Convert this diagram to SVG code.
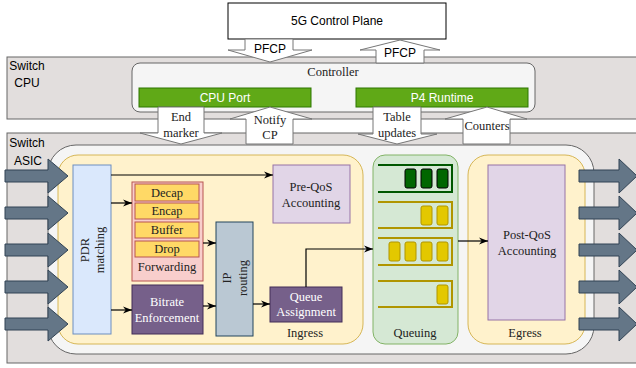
<svg xmlns="http://www.w3.org/2000/svg" width="636" height="368" viewBox="0 0 636 368">
<defs>
<marker id="ah" viewBox="0 0 10 10" refX="10" refY="5" markerWidth="9" markerHeight="9" markerUnits="userSpaceOnUse" orient="auto">
<path d="M0,1 L10,5 L0,9 L3,5 z" fill="#000"/>
</marker>
<style>
.band{fill:#e2dedd;stroke:#666;stroke-width:1}
.sans{font-family:"Liberation Sans",Arial,sans-serif;font-size:12px;fill:#000}
.serif{font-family:"Liberation Serif","Times New Roman",serif;font-size:12.5px;fill:#222}
.blk{fill:#fff;stroke:#777;stroke-width:1}
.green{fill:#60a917;stroke:#2d7600}
.wt{fill:#fff}
.purple{fill:#76608a;stroke:#432d57}
.lilac{fill:#e1d5e7;stroke:#9673a6}
.yel{fill:#fff2cc;stroke:#d6b656}
.item{fill:#ffd966;stroke:#b85450}
.big{fill:#647687;stroke:#314354}
.conn{stroke:#000;stroke-width:1.2;fill:none;marker-end:url(#ah)}
.qg{fill:none;stroke:#b09500;stroke-width:2}
.qgi{fill:#e3c800;stroke:#b09500}
.qd{fill:none;stroke:#005700;stroke-width:2}
.qdi{fill:#006600;stroke:#000}
</style>
</defs>
<rect width="636" height="368" fill="#fff"/>

<g id="switch-cpu">
<rect class="band" x="7" y="57" width="640" height="62"/>
<text class="sans" x="27" y="70" text-anchor="middle">Switch</text>
<text class="sans" x="27" y="87" text-anchor="middle">CPU</text>
</g>
<g id="switch-asic">
<rect class="band" x="7" y="133" width="640" height="230"/>
<text class="sans" x="27" y="147" text-anchor="middle">Switch</text>
<text class="sans" x="28" y="165" text-anchor="middle">ASIC</text>
<rect x="48" y="145" width="546" height="209" rx="28" fill="#f5f5f5" stroke="#666"/>
</g>

<g id="control-plane">
<rect x="228" y="3" width="218" height="36" fill="#fff" stroke="#000"/>
<text class="sans" x="337" y="25" text-anchor="middle">5G Control Plane</text>
</g>

<g id="controller">
<rect x="132" y="63" width="403" height="49" rx="8" fill="#f5f5f5" stroke="#666"/>
<text class="serif" x="333" y="76" text-anchor="middle">Controller</text>
</g>
<g id="cpu-port">
<rect class="green" x="139" y="88" width="172" height="19"/>
<text class="sans wt" x="225" y="102" text-anchor="middle">CPU Port</text>
</g>
<g id="p4-runtime">
<rect class="green" x="356" y="88" width="172" height="19"/>
<text class="sans wt" x="442" y="102" text-anchor="middle">P4 Runtime</text>
</g>

<g id="block-arrows">
<polygon class="blk" points="245,39 293,39 293,50 312,50 270,62 228,50 245,50"/>
<text class="sans" x="270" y="53" text-anchor="middle">PFCP</text>
<polygon class="blk" points="376,63 376,50 360,50 400,40 440,50 424,50 424,63"/>
<text class="sans" x="400" y="57" text-anchor="middle">PFCP</text>
<polygon class="blk" points="158,107 204,107 204,133 222,133 181,144 140,133 158,133"/>
<text class="serif" x="181" y="121" text-anchor="middle">End</text>
<text class="serif" x="181" y="137" text-anchor="middle">marker</text>
<polygon class="blk" points="246,144 246,119 230,119 270,107 312,119 293,119 293,144"/>
<text class="serif" x="270" y="124" text-anchor="middle">Notify</text>
<text class="serif" x="270" y="139" text-anchor="middle">CP</text>
<polygon class="blk" points="373,107 421,107 421,134 437,134 397,144 358,134 373,134"/>
<text class="serif" x="397" y="121" text-anchor="middle">Table</text>
<text class="serif" x="397" y="137" text-anchor="middle">updates</text>
<polygon class="blk" points="463,144 463,119 445,119 487,107 527,119 510,119 510,144"/>
<text class="serif" x="487" y="130" text-anchor="middle">Counters</text>
</g>

<g id="ingress">
<rect class="yel" x="58" y="155" width="305" height="189" rx="20"/>
<text class="serif" x="305" y="337" text-anchor="middle">Ingress</text>
</g>
<g id="queuing">
<rect x="373" y="155" width="85" height="189" rx="12" fill="#d5e8d4" stroke="#82b366"/>
<text class="serif" x="415" y="337" text-anchor="middle">Queuing</text>
<path class="qd" d="M378,165 H452 V192 H378"/>
<rect class="qdi" x="405" y="169" width="11" height="19" rx="2"/>
<rect class="qdi" x="421" y="169" width="11" height="19" rx="2"/>
<rect class="qdi" x="437" y="169" width="11" height="19" rx="2"/>
<path class="qg" d="M378,202 H452 V228 H378"/>
<rect class="qgi" x="421" y="206" width="11" height="19" rx="2"/>
<rect class="qgi" x="437" y="206" width="11" height="19" rx="2"/>
<path class="qg" d="M378,238 H452 V265 H378"/>
<rect class="qgi" x="389" y="242" width="11" height="19" rx="2"/>
<rect class="qgi" x="405" y="242" width="11" height="19" rx="2"/>
<rect class="qgi" x="421" y="242" width="11" height="19" rx="2"/>
<rect class="qgi" x="437" y="242" width="11" height="19" rx="2"/>
<path class="qg" d="M378,281 H452 V307 H378"/>
<rect class="qgi" x="437" y="285" width="11" height="19" rx="2"/>
</g>
<g id="egress">
<rect class="yel" x="468" y="155" width="117" height="189" rx="20"/>
<text class="serif" x="525" y="337" text-anchor="middle">Egress</text>
</g>

<g id="pdr-matching">
<rect x="73" y="165" width="38" height="169" fill="#dae8fc" stroke="#6c8ebf"/>
<text class="serif" transform="translate(89,250) rotate(-90)" text-anchor="middle">PDR</text>
<text class="serif" transform="translate(104,250) rotate(-90)" text-anchor="middle">matching</text>
</g>
<g id="forwarding">
<rect x="132" y="182" width="71" height="99" fill="#f8cecc" stroke="#b85450"/>
<rect class="item" x="135" y="184" width="64" height="17"/>
<text class="serif" x="167" y="197" text-anchor="middle">Decap</text>
<rect class="item" x="135" y="203" width="64" height="16"/>
<text class="serif" x="167" y="215" text-anchor="middle">Encap</text>
<rect class="item" x="135" y="222" width="64" height="16"/>
<text class="serif" x="167" y="234" text-anchor="middle">Buffer</text>
<rect class="item" x="135" y="241" width="64" height="16"/>
<text class="serif" x="167" y="253" text-anchor="middle">Drop</text>
<text class="serif" x="167" y="271" text-anchor="middle">Forwarding</text>
</g>
<g id="bitrate">
<rect class="purple" x="132" y="285" width="71" height="49"/>
<text class="serif wt" x="167" y="306" text-anchor="middle">Bitrate</text>
<text class="serif wt" x="167" y="322" text-anchor="middle">Enforcement</text>
</g>
<g id="ip-routing">
<rect x="216" y="222" width="37" height="114" fill="#bac8d3" stroke="#23445d"/>
<text class="serif" transform="translate(231,278) rotate(-90)" text-anchor="middle">IP</text>
<text class="serif" transform="translate(247,278) rotate(-90)" text-anchor="middle">routing</text>
</g>
<g id="queue-assignment">
<rect class="purple" x="270" y="287" width="72" height="35"/>
<text class="serif wt" x="306" y="301" text-anchor="middle">Queue</text>
<text class="serif wt" x="306" y="316" text-anchor="middle">Assignment</text>
</g>
<g id="pre-qos">
<rect class="lilac" x="273" y="165" width="77" height="58"/>
<text class="serif" x="311" y="191" text-anchor="middle">Pre-QoS</text>
<text class="serif" x="311" y="207" text-anchor="middle">Accounting</text>
</g>
<g id="post-qos">
<rect class="lilac" x="488" y="165" width="77" height="155"/>
<text class="serif" x="527" y="239" text-anchor="middle">Post-QoS</text>
<text class="serif" x="527" y="255" text-anchor="middle">Accounting</text>
</g>

<g id="connectors">
<path class="conn" d="M111,175 H273"/>
<path class="conn" d="M111,203 H132"/>
<path class="conn" d="M111,310 H132"/>
<path class="conn" d="M203,243 H216"/>
<path class="conn" d="M203,306 H216"/>
<path class="conn" d="M253,304 H270"/>
<path class="conn" d="M306,287 V249 H373"/>
<path class="conn" d="M458,241 H488"/>
</g>

<g id="io-arrows">
<polygon class="big" points="5,170 48,170 48,159 68,176 48,193 48,182 5,182"/>
<polygon class="big" points="5,207 48,207 48,196 68,213 48,230 48,219 5,219"/>
<polygon class="big" points="5,244 48,244 48,233 68,250 48,267 48,256 5,256"/>
<polygon class="big" points="5,281 48,281 48,270 68,287 48,304 48,293 5,293"/>
<polygon class="big" points="5,318 48,318 48,307 68,324 48,341 48,330 5,330"/>
<polygon class="big" points="579,170 619,170 619,159 637,176 619,193 619,182 579,182"/>
<polygon class="big" points="579,207 619,207 619,196 637,213 619,230 619,219 579,219"/>
<polygon class="big" points="579,244 619,244 619,233 637,250 619,267 619,256 579,256"/>
<polygon class="big" points="579,281 619,281 619,270 637,287 619,304 619,293 579,293"/>
<polygon class="big" points="579,318 619,318 619,307 637,324 619,341 619,330 579,330"/>
</g>
</svg>
